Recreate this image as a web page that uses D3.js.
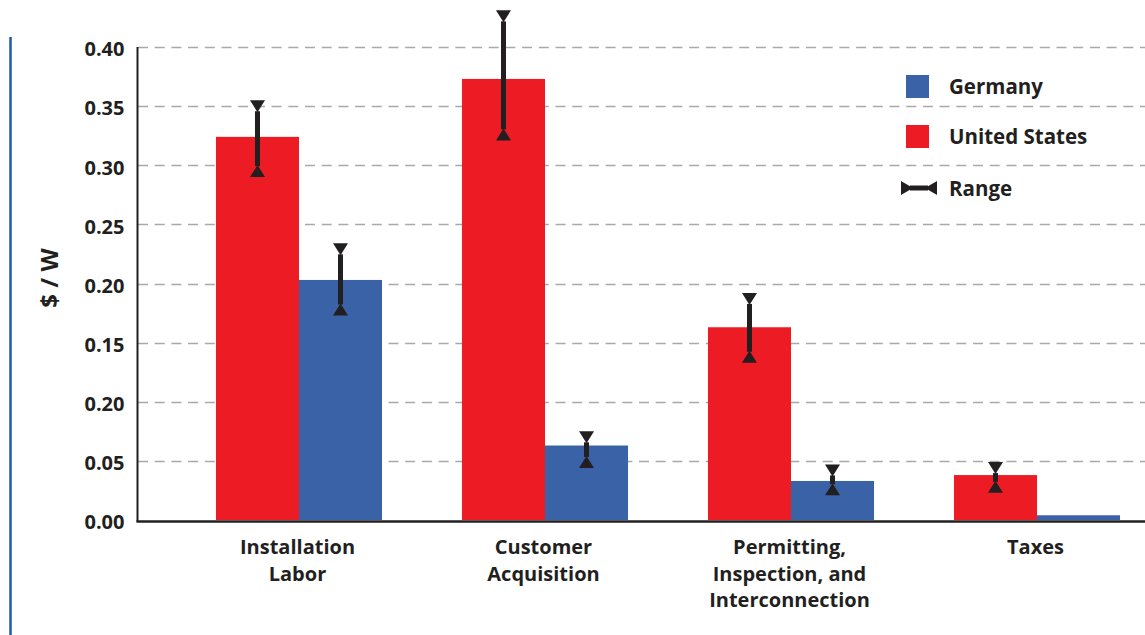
<!DOCTYPE html>
<html>
<head>
<meta charset="utf-8">
<script src="https://cdn.jsdelivr.net/npm/d3@7"></script>
<style>
  html, body { margin: 0; padding: 0; background: #fff; }
  svg { display: block; }
  text { font-family: "Open Sans", "DejaVu Sans", sans-serif; font-weight: 700; fill: #231f20; }
</style>
</head>
<body>
<svg id="chart" width="1145" height="635"></svg>
<script>
// ---- Data ----
const categories = ["Installation\nLabor", "Customer\nAcquisition", "Permitting,\nInspection, and\nInterconnection", "Taxes"];
const series = ["United States", "Germany"];
const usValues = [0.324, 0.373, 0.163, 0.038];
const deValues = [0.203, 0.063, 0.033, 0.004];
const usLow  = [0.290, 0.321, 0.133, 0.023];
const usHigh = [0.355, 0.431, 0.192, 0.049];
const deLow  = [0.173, 0.044, 0.021, null];
const deHigh = [0.234, 0.075, 0.047, null];
const tickValues = [0, 0.05, 0.10, 0.15, 0.20, 0.25, 0.30, 0.35, 0.40];
const tickLabels = ["0.00", "0.05", "0.20", "0.15", "0.20", "0.25", "0.30", "0.35", "0.40"];
const legendItems = ["Germany", "United States", "Range"];
const yTitle = "$ / W";

const colors = { "United States": "#ed1c24", "Germany": "#3a62a6" };
const ink = "#231f20";

const svg = d3.select("#chart");

// left blue rule
svg.append("line").attr("x1", 10.5).attr("x2", 10.5).attr("y1", 37).attr("y2", 635)
  .attr("stroke", "#1f5aa6").attr("stroke-width", 2.5);

const y = d3.scaleLinear().domain([0, 0.40]).range([520, 47]);
const x0 = d3.scaleBand().domain(d3.range(categories.length)).range([137, 1199])
  .paddingInner(0.325).paddingOuter(0.321);
const x1 = d3.scaleBand().domain(series).range([0, x0.bandwidth()]);

// gridlines
svg.append("g").selectAll("line").data(tickValues.filter(d => d > 0)).join("line")
  .attr("x1", 138).attr("x2", 1145)
  .attr("y1", d => Math.round(y(d)) + 0.5).attr("y2", d => Math.round(y(d)) + 0.5)
  .attr("stroke", "#a7a9ac").attr("stroke-width", 1.6).attr("stroke-dasharray", "10,6.7");

// bars
const rows = categories.map((c, i) => [
  { s: "United States", i, v: usValues[i], lo: usLow[i], hi: usHigh[i] },
  { s: "Germany", i, v: deValues[i], lo: deLow[i], hi: deHigh[i] }
]).flat();

svg.append("g").selectAll("rect").data(rows).join("rect")
  .attr("x", d => x0(d.i) + x1(d.s))
  .attr("width", x1.bandwidth())
  .attr("y", d => y(d.v))
  .attr("height", d => y(0) - y(d.v))
  .attr("fill", d => colors[d.s]);

// error bars
const eb = svg.append("g");
const triW = 7.5, triH = 12;
rows.filter(d => d.lo != null).forEach(d => {
  const cx = x0(d.i) + x1(d.s) + x1.bandwidth() / 2;
  const yt = y(d.hi), yb = y(d.lo);
  eb.append("line").attr("x1", cx).attr("x2", cx).attr("y1", yt + triH - 1).attr("y2", yb - triH + 1)
    .attr("stroke", ink).attr("stroke-width", 5);
  eb.append("path").attr("d", `M${cx - triW},${yt}L${cx + triW},${yt}L${cx},${yt + triH}Z`).attr("fill", ink);
  eb.append("path").attr("d", `M${cx - triW},${yb}L${cx + triW},${yb}L${cx},${yb - triH}Z`).attr("fill", ink);
});

// axes
const yAxis = d3.axisLeft(y).tickValues(tickValues).tickSize(0).tickPadding(13)
  .tickFormat((d, i) => tickLabels[i]);
const gy = svg.append("g").attr("transform", "translate(137.5,0)").call(yAxis);
gy.select(".domain").remove();
gy.selectAll("text").style("font-size", "20px").attr("fill", ink).attr("dy", "0.44em");
svg.append("line").attr("x1", 137.5).attr("x2", 137.5).attr("y1", 47).attr("y2", 522)
  .attr("stroke", ink).attr("stroke-width", 2);
svg.append("line").attr("x1", 136.5).attr("x2", 1145).attr("y1", 521.5).attr("y2", 521.5)
  .attr("stroke", ink).attr("stroke-width", 2.5);

// y title
svg.append("text").attr("transform", "translate(58,278) rotate(-90)")
  .attr("text-anchor", "middle").style("font-size", "24px").text(yTitle);

// category labels
const cl = svg.append("g");
categories.forEach((c, i) => {
  const cx = x0(i) + x0.bandwidth() / 2 - 1.5;
  const t = cl.append("text").attr("text-anchor", "middle").style("font-size", "20px");
  c.split("\n").forEach((line, k) => {
    t.append("tspan").attr("x", cx).attr("y", 554 + k * 26.5).text(line);
  });
});

// legend
const lg = svg.append("g");
const legY = [86.5, 136.5, 188];
legendItems.forEach((name, k) => {
  if (name === "Range") {
    const cy = legY[k];
    lg.append("path").attr("d", `M901,${cy - 7}L913,${cy}L901,${cy + 7}Z`).attr("fill", ink);
    lg.append("path").attr("d", `M937,${cy - 7}L925,${cy}L937,${cy + 7}Z`).attr("fill", ink);
    lg.append("line").attr("x1", 910).attr("x2", 928).attr("y1", cy).attr("y2", cy)
      .attr("stroke", ink).attr("stroke-width", 5);
  } else {
    lg.append("rect").attr("x", 906).attr("y", legY[k] - 11.5).attr("width", 23).attr("height", 23)
      .attr("fill", colors[name]);
  }
  lg.append("text").attr("x", 949).attr("y", legY[k]).attr("dy", "0.38em")
    .style("font-size", "20.5px").text(name);
});
</script>
</body>
</html>
